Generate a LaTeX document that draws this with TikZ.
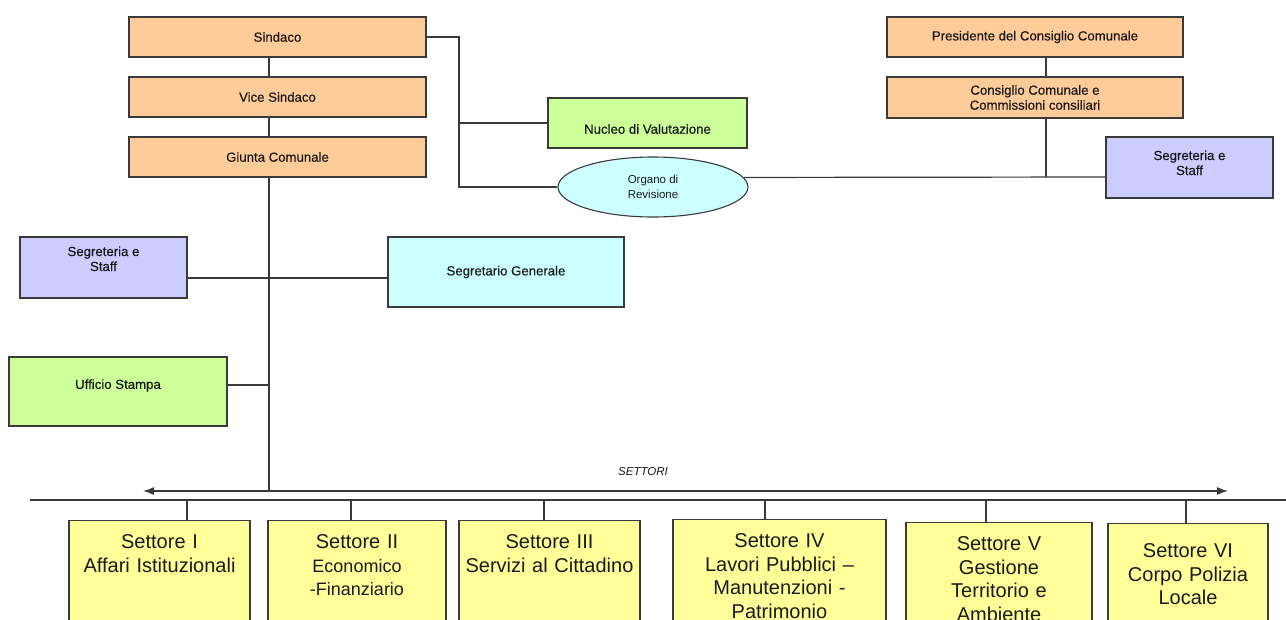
\documentclass[tikz,border=0pt]{standalone}
\usepackage{fontspec}
\setmainfont{Liberation Sans}
\newfontfamily\lblfont{Liberation Sans}[FakeBold=0.5]
\usetikzlibrary{shapes.geometric,arrows.meta}
\definecolor{peach}{HTML}{FFCC99}
\definecolor{lime}{HTML}{CCFF99}
\definecolor{lav}{HTML}{CCCCFF}
\definecolor{aqua}{HTML}{CCFFFF}
\definecolor{yel}{HTML}{FFFF99}
\definecolor{ln}{HTML}{3A3A3A}
\definecolor{txt}{HTML}{1A1A1A}
\newcommand{\shiftt}[2]{\raisebox{#1}[\height][\depth]{#2}}
\begin{document}
\begin{tikzpicture}[x=1pt,y=-1pt,
  conn/.style={draw=ln, line width=1.2pt},
  box/.style={draw=ln, line width=1.1pt, inner sep=2pt, align=center, text=txt,
    font=\lblfont\fontsize{13.2}{15}\selectfont},
  orangebox/.style={box, fill=peach},
  greenbox/.style={box, fill=lime},
  lavbox/.style={box, fill=lav},
  aquabox/.style={box, fill=aqua},
  settore/.style={draw=ln, line width=1.1pt, fill=yel, anchor=north, inner xsep=2pt,
    inner ysep=14pt, text depth=160pt, align=center, text=txt,
    font=\fontsize{20}{23.5}\selectfont}]
\useasboundingbox (0,0) rectangle (1286,619);
\clip (0,0) rectangle (1286,619);

% top-left chain
\node[orangebox, minimum width=297pt, minimum height=40pt] (sindaco) at (277.5,37) {Sindaco};
\node[orangebox, minimum width=297pt, minimum height=40pt] (vice) at (277.5,97) {Vice Sindaco};
\node[orangebox, minimum width=297pt, minimum height=40pt] (giunta) at (277.5,157) {Giunta Comunale};

% right chain
\node[orangebox, minimum width=296pt, minimum height=40pt] (pres) at (1035,37) {Presidente del Consiglio Comunale};
\node[orangebox, minimum width=296pt, minimum height=41pt] (cons) at (1035,97.5) {Consiglio Comunale e\\Commissioni consiliari};
\node[lavbox, minimum width=167pt, minimum height=61pt] (seg2) at (1189.5,167.5)
  {\shiftt{3pt}{\begin{tabular}{@{}c@{}}Segreteria e\\Staff\end{tabular}}};

% middle
\node[greenbox, minimum width=199pt, minimum height=50pt] (nucleo) at (647.5,123)
  {\shiftt{-6pt}{Nucleo di Valutazione}};
\node[ellipse, draw=ln, line width=1.1pt, fill=aqua, minimum width=190pt, minimum height=60pt,
  inner sep=0pt, align=center, text=txt, font=\fontsize{11.5}{14.5}\selectfont] (org) at (653,187) {Organo di\\Revisione};

% left side
\node[lavbox, minimum width=167pt, minimum height=61pt] (seg1) at (103.5,267.5)
  {\shiftt{7pt}{\begin{tabular}{@{}c@{}}Segreteria e\\Staff\end{tabular}}};
\node[aquabox, minimum width=236pt, minimum height=70pt] (sg) at (506,272) {Segretario Generale};
\node[greenbox, minimum width=218pt, minimum height=69pt] (uff) at (118,391.5)
  {\shiftt{6pt}{Ufficio Stampa}};

% coordinates
\coordinate (cj) at (269,491);
\coordinate (sj) at (459,37);
\coordinate (oj) at (1046,177);
\coordinate (sgl) at (269,278);
\coordinate (uj) at (269,385);
\coordinate (busL) at (30,500);
\coordinate (busR) at (1286,500);
\coordinate (arL) at (143,491);
\coordinate (arR) at (1228,491);

% connectors top-left
\draw[conn] (sindaco.south -| cj) -- (vice.north -| cj);
\draw[conn] (vice.south -| cj) -- (giunta.north -| cj);
\draw[conn] (giunta.south -| cj) -- (cj);
\draw[conn] (sindaco.east) -- (sj) |- (org.west);
\draw[conn] (sj |- nucleo.west) -- (nucleo.west);

% right
\draw[conn] (pres.south -| oj) -- (cons.north -| oj);
\draw[conn] (cons.south -| oj) -- (oj);
\draw[conn] (org.6.4) -- (seg2.west |- oj);

% left
\draw[conn] (seg1.east |- sgl) -- (sg.west |- sgl);
\draw[conn] (uff.east |- uj) -- (uj);

% settori
\node[font=\fontsize{11.5}{13}\selectfont\itshape, text=txt] (settlbl) at (643,472) {SETTORI};
\draw[conn, {Latex[length=11pt,width=8pt]}-{Latex[length=11pt,width=8pt]}] (arL) -- (arR);
\draw[conn] (busL) -- (busR);

\node[settore, text width=177pt] (s1) at (159.5,520) {Settore I\\Affari Istituzionali};
\node[settore, text width=174pt] (s2) at (357,520) {Settore II\\{\fontsize{18}{22.5}\selectfont Economico}\\{\fontsize{18}{22.5}\selectfont -Finanziario}};
\node[settore, text width=177pt] (s3) at (549.5,520) {Settore III\\Servizi al Cittadino};
\node[settore, text width=209pt] (s4) at (779.5,519) {Settore IV\\Lavori Pubblici –\\Manutenzioni -\\Patrimonio};
\node[settore, text width=182pt] (s5) at (999,522) {Settore V\\Gestione\\Territorio e\\Ambiente};
\node[settore, text width=156pt, inner ysep=20pt] (s6) at (1188,523) {Settore VI\\Corpo Polizia\\Locale};

\coordinate (b1) at (187,500);
\coordinate (b2) at (351,500);
\coordinate (b3) at (544,500);
\coordinate (b4) at (765,500);
\coordinate (b5) at (986,500);
\coordinate (b6) at (1186,500);
\draw[conn] (b1) -- (b1 |- s1.north);
\draw[conn] (b2) -- (b2 |- s2.north);
\draw[conn] (b3) -- (b3 |- s3.north);
\draw[conn] (b4) -- (b4 |- s4.north);
\draw[conn] (b5) -- (b5 |- s5.north);
\draw[conn] (b6) -- (b6 |- s6.north);
\end{tikzpicture}
\end{document}
